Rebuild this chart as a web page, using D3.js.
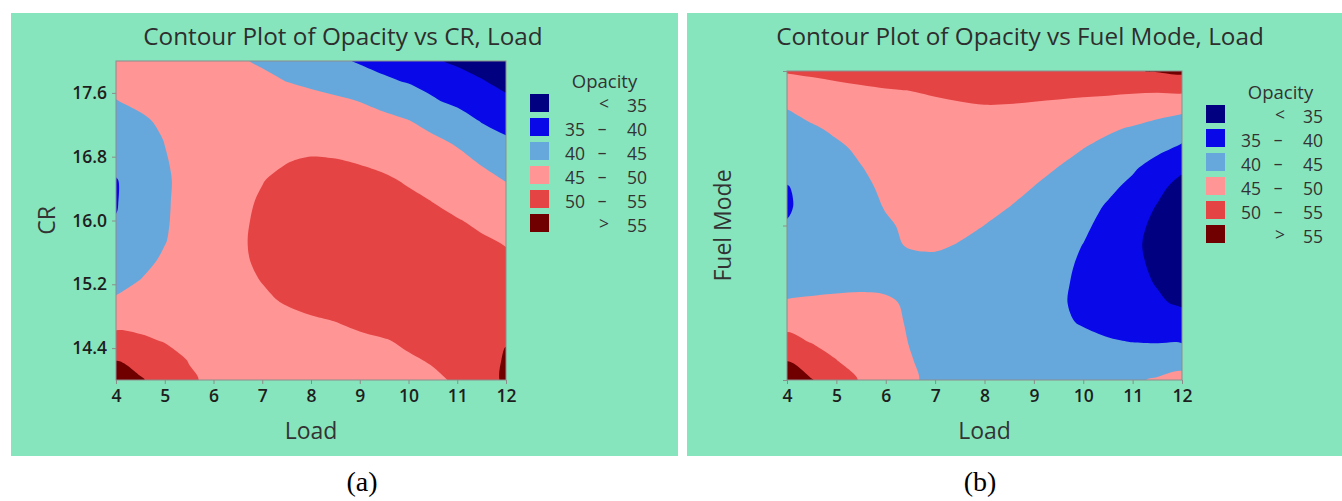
<!DOCTYPE html>
<html><head><meta charset="utf-8">
<script src="https://cdn.jsdelivr.net/npm/d3@7"></script>
<style>
body{margin:0;background:#fff}
svg{display:block}
</style>
</head><body>
<svg id="c" width="1342" height="501"></svg>
<script>
// ---------------- DATA ----------------
const loadValues = [4,4.5,5,5.5,6,6.5,7,7.5,8,8.5,9,9.5,10,10.5,11,11.5,12];
// panel (a) rows: CR from 18 (top) down to 14 (bottom)
const crValues = [18,17.75,17.5,17.25,17,16.75,16.5,16.25,16,15.75,15.5,15.25,15,14.75,14.5,14.25,14];
const opacityVsCR = [
  [46.5,47,47.3,47.2,46.8,45.6,44.3,43.2,42,40.8,39.6,38.4,37.2,35.6,34.2,32.8,31.5],
  [46,46.6,47.2,47.5,47.5,47,46.2,44.9,44,43,41.9,40.7,39.6,38.4,37,35.3,33.5],
  [44.9,45.8,46.6,47.2,47.6,47.7,47.5,47.1,46.5,45.8,44.9,43.9,42.6,40.5,38.9,37.6,36.0],
  [43.3,44.4,45.7,46.8,47.5,47.9,48,48,47.8,47.3,46.7,45.9,45.1,43.8,42.2,39.7,38.4],
  [42,43.3,45.1,46.6,47.5,48,48.3,48.5,48.5,48.3,47.9,47.3,46.6,45.6,44.5,42.6,40.6],
  [41,42.5,44.7,46.6,47.8,48.6,49.2,49.85,50.4,50.2,49.7,49,48.1,47.1,46,44.6,43.1],
  [39.8,41.8,44.3,46.7,48,49,49.9,50.8,51.3,51.4,51.2,50.6,49.6,48.5,47.3,46.1,44.9],
  [39.8,41.8,44.4,46.8,48.2,49.3,50.3,51.2,51.8,52,51.9,51.5,50.8,49.9,48.8,47.6,46.4],
  [40.1,42.2,44.5,46.9,48.4,49.5,50.5,51.5,52.2,52.6,52.6,52.3,51.7,50.9,50.2,49.3,48.5],
  [41,42.8,44.8,47,48.5,49.6,50.6,51.6,52.4,52.8,53,52.8,52.3,51.6,51,50.4,49.7],
  [42.2,43.8,45.6,47.2,48.5,49.5,50.5,51.5,52.3,52.9,53.2,53.2,52.9,52.4,51.8,51.2,50.6],
  [43.8,45.05,46.2,47.3,48.3,49.2,50.1,51.1,52,52.7,53.2,53.4,53.3,53,52.5,52,51.6],
  [45.4,46.2,47,47.7,48.3,48.9,49.5,50.3,51.2,52,52.7,53.2,53.5,53.5,53.4,53.3,53.2],
  [48.5,48.4,48.3,48.3,48.3,48.5,48.8,49.2,49.6,50.1,50.9,51.8,52.6,53.2,53.7,54.1,54.4],
  [51.4,50.7,49.7,48.9,48.4,48.1,48,48.1,48.4,48.8,49.3,49.8,50.6,51.4,52.5,53.6,54.8],
  [54.9,53.4,51.8,49.8,48.5,47.8,47.4,47.3,47.4,47.7,48.2,48.8,49.6,50.3,51.7,53.3,55.4],
  [57.5,55.4,53.2,50.7,48.9,47.8,47.1,46.8,46.8,47.1,47.6,48.3,49.0,49.4,50.4,52.8,55.8]
];
// panel (b) rows: Fuel Mode from 3 (top) down to 1 (bottom)
const fuelModeValues = [3,2.875,2.75,2.625,2.5,2.375,2.25,2.125,2,1.875,1.75,1.625,1.5,1.375,1.25,1.125,1];
const opacityVsFuel = [
  [50.2,50.5,50.9,51.3,51.8,52.2,52.6,52.9,53.1,53.3,53.5,53.7,54.0,54.3,54.7,55.3,56],
  [48.6,48.9,49.2,49.5,49.8,50.05,50.4,50.7,50.9,51,51,51,50.9,50.8,50.6,50.5,50.8],
  [44.95,46.2,47.2,47.9,48.4,48.8,49.2,49.5,49.7,49.6,49.3,48.9,48.4,47.9,47.3,46.6,45.9],
  [43.6,44.5,45.6,46.5,47.2,47.7,48.1,48.3,48.3,48.1,47.7,47.1,46.3,45.5,44.6,43.4,42.0],
  [42.3,43.2,44.4,45.6,46.6,47.3,47.7,47.9,47.8,47.4,46.7,45.9,45.03,43.9,42.6,41.0,39.3],
  [41.5,42.3,43.4,44.9,46.1,47,47.5,47.6,47.3,46.7,45.9,44.95,43.8,42.5,40.6,38.3,35.8],
  [39.8,41.5,42.8,44.2,45.7,46.7,47.2,47.2,46.8,46.0,44.97,43.7,42.4,40.9,39.0,36.1,33.5],
  [39.6,41.2,42.5,43.8,45.2,46.3,46.7,46.6,46,45.05,43.9,42.7,41.5,39.6,37.2,34.8,32.5],
  [40.2,41.3,42.5,43.6,44.6,45.6,46.1,45.9,44.98,44,42.9,41.9,40.6,38.9,36.3,34.0,32.0],
  [41,41.8,42.7,43.5,44.3,45.3,45.6,44.8,43.9,43,42.1,41.1,39.95,38.4,35.9,33.6,31.8],
  [41.8,42.3,42.8,43.3,43.7,44,43.9,43.4,42.8,42.1,41.3,40.7,39.6,37.9,35.8,34.3,31.5],
  [43.4,43.7,44,44.2,44.3,44.1,43.5,42.9,42.3,41.7,41.1,40.5,39.4,38.2,36.6,34.7,32.8],
  [45.4,45.7,45.9,46.0,45.5,44.5,43.2,42.5,42,41.5,41,40.4,39.3,38.2,37,35.8,34.1],
  [48.5,48,47.5,47,46.3,44.5,42.9,42.1,41.6,41.2,40.8,40.4,39.8,38.9,38.3,37.8,37.5],
  [51.4,49.7,48.6,47.7,46.6,44.8,43.3,42.4,41.9,41.5,41.2,40.9,40.6,40.3,39.9,39.7,39.6],
  [54.9,52.6,50.1,48.3,46.8,45.2,43.7,42.8,42.3,42,41.9,41.9,41.9,42,42.3,42.8,43.5],
  [58,55.2,52.5,49.6,47.6,45.6,43.9,42.9,42.4,42.2,42.3,42.6,43.1,43.8,44.5,45.4,46.3]
];
const levels = [35,40,45,50,55];
const legendLow  = ["","35","40","45","50",""];
const legendSym  = ["<","–","–","–","–",">"];
const legendHigh = ["35","40","45","50","55","55"];
const loadTicks = [4,5,6,7,8,9,10,11,12];
const crTicks = [14.4,15.2,16.0,16.8,17.6];
const fuelTicks = [1,2,3];

// ---------------- STYLE ----------------
const bandColors = ["#000080","#0808e8","#66a8dc","#ff9595","#e54444","#700000"];
const panelFill = "#87e5bd";
const SANS = "'Open Sans','Noto Sans',sans-serif";
const svg = d3.select("#c");
const ringLine = d3.line().curve(d3.curveCatmullRomClosed.alpha(0.5));

function txt(sel){ return sel.style("font-family",SANS); }

function drawPanel(cfg){
  const g = svg.append("g");
  g.append("rect").attr("x",cfg.box[0]).attr("y",cfg.box[1]).attr("width",cfg.box[2]).attr("height",cfg.box[3]).attr("fill",panelFill);
  txt(g.append("text")).attr("x",cfg.titleX).attr("y",45).attr("text-anchor","middle")
    .attr("font-size",24.3).attr("fill","#2e2e2e").text(cfg.title);

  const P = cfg.plot;
  const x = d3.scaleLinear().domain(d3.extent(loadValues)).range([P.x0,P.x1]);
  const y = d3.scaleLinear().domain(cfg.yDomain).range([P.y1,P.y0]);
  const nx = loadValues.length, ny = cfg.rows.length;
  const gx = d3.scaleLinear().domain([0.5,nx-0.5]).range([loadValues[0],loadValues[nx-1]]);
  const gy = d3.scaleLinear().domain([0.5,ny-0.5]).range([cfg.rows[0],cfg.rows[ny-1]]);
  const contours = d3.contours().size([nx,ny]).thresholds(levels)(cfg.grid.flat());
  const toPath = mp => mp.coordinates.map(poly => poly.map(ring =>
      ringLine(ring.slice(0,-1).map(([px,py]) => [x(gx(px)), y(gy(py))]))).join("")).join("");

  const clipId = "clip-"+cfg.id;
  svg.append("defs").append("clipPath").attr("id",clipId)
    .append("rect").attr("x",P.x0).attr("y",P.y0).attr("width",P.x1-P.x0).attr("height",P.y1-P.y0);
  const pg = g.append("g").attr("clip-path",`url(#${clipId})`);
  pg.append("rect").attr("x",P.x0).attr("y",P.y0).attr("width",P.x1-P.x0).attr("height",P.y1-P.y0).attr("fill",bandColors[0]);
  pg.selectAll("path.band").data(contours).join("path").attr("class","band")
    .attr("d",toPath).attr("fill-rule","evenodd").attr("fill",(d,i)=>bandColors[i+1]);
  g.append("rect").attr("x",P.x0).attr("y",P.y0).attr("width",P.x1-P.x0).attr("height",P.y1-P.y0)
    .attr("fill","none").attr("stroke","#8c8c8c").attr("stroke-width",1);

  const xa = g.append("g").attr("transform",`translate(0,${P.y1})`)
    .call(d3.axisBottom(x).tickValues(loadTicks).tickSize(4).tickPadding(6).tickFormat(d3.format("d")));
  const ya = g.append("g").attr("transform",`translate(${P.x0},0)`)
    .call(d3.axisLeft(y).tickValues(cfg.yTicks).tickSize(4).tickPadding(5).tickFormat(cfg.yFormat));
  [xa,ya].forEach(a=>{
    a.select(".domain").remove();
    a.selectAll("line").attr("stroke","#8c8c8c");
    txt(a.selectAll("text")).attr("font-size",17.5).attr("font-weight",600).attr("fill","#1e1e1e");
  });

  txt(g.append("text")).attr("x",(P.x0+P.x1)/2).attr("y",439).attr("text-anchor","middle")
    .attr("font-size",23).attr("fill","#333").text("Load");
  txt(g.append("text")).attr("transform",`translate(${cfg.yTitleX},${(P.y0+P.y1)/2}) rotate(-90)`)
    .attr("text-anchor","middle").attr("font-size",23).attr("fill","#333").text(cfg.yTitle);

  // legend
  const L = cfg.legend;
  txt(g.append("text")).attr("x",L.x+74.5).attr("y",L.y-6.5).attr("text-anchor","middle")
    .attr("font-size",18.5).attr("fill","#333").text("Opacity");
  bandColors.forEach((c,i)=>{
    const ty = L.y + i*24;
    g.append("rect").attr("x",L.x).attr("y",ty).attr("width",19).attr("height",18).attr("fill",c);
    if(legendLow[i]) txt(g.append("text")).attr("x",L.x+55).attr("y",ty+18).attr("text-anchor","end")
      .attr("font-size",17.5).attr("fill","#333").text(legendLow[i]);
    txt(g.append("text")).attr("x",L.x+(legendLow[i]?72:74)).attr("y",ty+(legendLow[i]?17:16)).attr("text-anchor","middle")
      .attr("font-size",17.5).attr("fill","#333").text(legendSym[i]);
    txt(g.append("text")).attr("x",L.x+117).attr("y",ty+18).attr("text-anchor","end")
      .attr("font-size",17.5).attr("fill","#333").text(legendHigh[i]);
  });

  svg.append("text").attr("x",cfg.capX).attr("y",491).attr("text-anchor","middle")
    .style("font-family","'Liberation Serif','Times New Roman',serif").attr("font-size",28)
    .attr("fill","#000").text(cfg.caption);
}

drawPanel({
  id:"a", box:[11,13,667,443], title:"Contour Plot of Opacity vs CR, Load", titleX:343,
  plot:{x0:116,x1:506,y0:61,y1:380}, yDomain:[14,18], rows:crValues, grid:opacityVsCR,
  yTicks:crTicks, yFormat:d3.format(".1f"), yTitle:"CR", yTitleX:55,
  legend:{x:530,y:94}, caption:"(a)", capX:362
});
drawPanel({
  id:"b", box:[687,13,655,443], title:"Contour Plot of Opacity vs Fuel Mode, Load", titleX:1020,
  plot:{x0:787,x1:1182,y0:71,y1:380}, yDomain:[1,3], rows:fuelModeValues, grid:opacityVsFuel,
  yTicks:fuelTicks, yFormat:()=>"", yTitle:"Fuel Mode", yTitleX:731,
  legend:{x:1206,y:105}, caption:"(b)", capX:980
});
</script>
</body></html>
